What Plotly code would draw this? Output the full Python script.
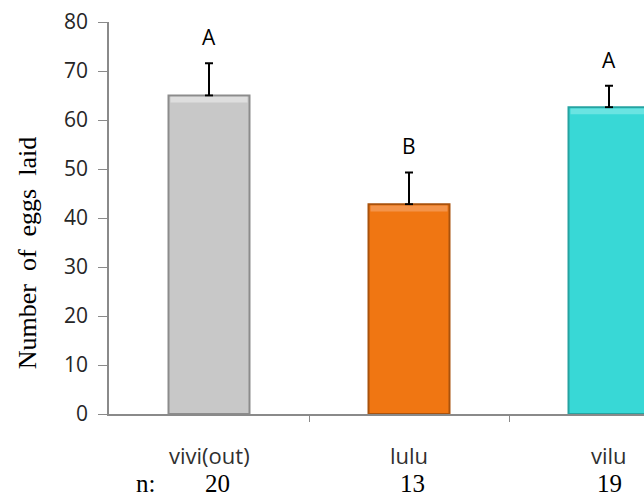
import plotly.graph_objects as go

# Groups, mean eggs laid, standard errors, significance letters, sample sizes
groups = ["vivi(out)", "lulu", "vilu"]
means = [65.0, 42.8, 62.6]
errors = [6.6, 6.5, 4.4]
letters = ["A", "B", "A"]
n_values = [20, 13, 19]
y_ticks = [0, 10, 20, 30, 40, 50, 60, 70, 80]

fills = ["#c8c8c8", "#f07612", "#38d8d6"]
edges = ["#8c8c8c", "#a9520c", "#26a3a1"]
highlights = ["#dedede", "#f4944a", "#6ae4e2"]

x_idx = list(range(len(groups)))
bar_w = 0.405
band = 1.2  # height of the light bevel strip at the top of each bar

fig = go.Figure()

fig.add_trace(go.Bar(
    x=x_idx, y=means, width=bar_w,
    marker=dict(color=fills, line=dict(color=edges, width=2)),
    error_y=dict(type="data", array=errors, arrayminus=[0] * len(errors),
                 symmetric=False, color="black", thickness=2, width=4),
    showlegend=False, hoverinfo="skip",
))

# bevel highlight along the top edge of each bar
fig.add_trace(go.Bar(
    x=x_idx, y=[band] * len(means), base=[m - band - 0.25 for m in means],
    width=bar_w - 0.02,
    marker=dict(color=highlights, line=dict(width=0)),
    showlegend=False, hoverinfo="skip",
))

fig.update_layout(
    width=644, height=497,
    margin=dict(l=109, r=0, t=22, b=83),
    paper_bgcolor="white", plot_bgcolor="white",
    barmode="overlay",
    xaxis=dict(
        range=[-0.5, 2.175], tickmode="array", tickvals=[0.5, 1.5],
        ticks="outside", ticklen=6, tickcolor="#8a8a8a",
        showticklabels=False, showgrid=False, zeroline=False,
        showline=True, linecolor="#8a8a8a", linewidth=1.5,
    ),
    yaxis=dict(
        range=[0, 80], tickvals=y_ticks, ticks="outside", ticklen=9,
        tickcolor="#8a8a8a", showgrid=False, zeroline=False,
        showline=True, linecolor="#8a8a8a", linewidth=1.5,
        ticklabelstandoff=6,
        tickfont=dict(family="Open Sans", size=21, color="#262626"),
    ),
)

annotations = []
# significance letters above the error bars
for i, (m, e, t) in enumerate(zip(means, errors, letters)):
    annotations.append(dict(
        x=i, y=m + e, xref="x", yref="y", text=t, showarrow=False,
        yanchor="bottom", yshift=10,
        font=dict(family="Open Sans", size=21, color="black"),
    ))
# group names below the axis
for i, g in enumerate(groups):
    annotations.append(dict(
        x=i, y=0, xref="x", yref="paper", text=g, showarrow=False,
        yanchor="middle", yshift=-41,
        font=dict(family="Open Sans", size=22, color="#303030"),
    ))
# sample sizes row
n_shift = [8, 3, 0]
for i, n in enumerate(n_values):
    annotations.append(dict(
        x=i, y=0, xref="x", yref="paper", text=str(n), showarrow=False,
        yanchor="middle", yshift=-69, xshift=n_shift[i],
        font=dict(family="Liberation Serif", size=25, color="black"),
    ))
annotations.append(dict(
    x=0, y=0, xref="x", yref="paper", text="n:", showarrow=False,
    yanchor="middle", yshift=-69, xshift=-64,
    font=dict(family="Liberation Serif", size=25, color="black"),
))
# y-axis title
annotations.append(dict(
    x=0, y=0.41, xref="paper", yref="paper",
    text="Number\u00a0\u00a0of\u00a0\u00a0eggs\u00a0\u00a0laid",
    textangle=-90, showarrow=False, xanchor="center", yanchor="middle",
    xshift=-82,
    font=dict(family="Liberation Serif", size=26, color="black"),
))
fig.update_layout(annotations=annotations)

fig.write_html("out.html")
